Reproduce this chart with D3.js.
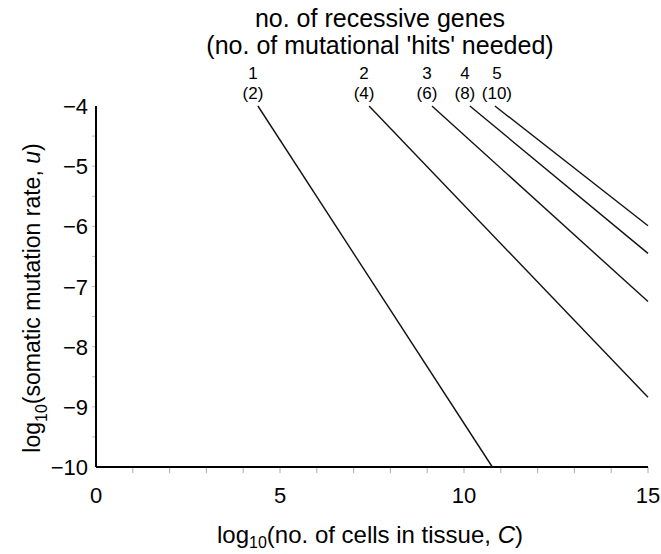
<!DOCTYPE html>
<html>
<head>
<meta charset="utf-8">
<script src="https://cdn.jsdelivr.net/npm/d3@7"></script>
<style>
  body { margin: 0; background: #fff; }
  svg { font-family: "Liberation Sans", Arial, sans-serif; }
</style>
</head>
<body>
<div id="chart"></div>
<script>
// Data: each line goes from (startX, -4) to (endX, endY)
const genes = [1, 2, 3, 4, 5];
const hits = [2, 4, 6, 8, 10];
const startX = [4.4, 7.42, 9.13, 10.16, 10.84];
const endX = [10.77, 15, 15, 15, 15];
const endY = [-10, -8.84, -7.25, -6.45, -5.99];
const xTicks = [0, 5, 10, 15];
const yTicks = [-4, -5, -6, -7, -8, -9, -10];

const W = 661, H = 554;
const margin = { top: 106, right: 13, bottom: 87, left: 96 };

const svg = d3.select("#chart").append("svg")
    .attr("width", W)
    .attr("height", H);

const x = d3.scaleLinear().domain([0, 15]).range([margin.left, W - margin.right]);
const y = d3.scaleLinear().domain([-10, -4]).range([H - margin.bottom, margin.top]);

// minor ticks (light grey)
svg.append("g")
    .selectAll("line")
    .data(d3.range(1, 16))
    .enter().append("line")
    .attr("x1", d => x(d)).attr("x2", d => x(d))
    .attr("y1", y(-10)).attr("y2", y(-10) + 6)
    .attr("stroke", "#aaa").attr("stroke-width", 1);

svg.append("g")
    .selectAll("line")
    .data(d3.range(-9.5, -4, 0.5))
    .enter().append("line")
    .attr("x1", x(0) - 4).attr("x2", x(0))
    .attr("y1", d => y(d)).attr("y2", d => y(d))
    .attr("stroke", "#bbb").attr("stroke-width", 1);

// axes lines
svg.append("line")
    .attr("x1", x(0)).attr("x2", x(15))
    .attr("y1", y(-10)).attr("y2", y(-10))
    .attr("stroke", "#000").attr("stroke-width", 2);
svg.append("line")
    .attr("x1", x(0)).attr("x2", x(0))
    .attr("y1", y(-10)).attr("y2", y(-4))
    .attr("stroke", "#000").attr("stroke-width", 2);

// tick labels
svg.append("g")
    .selectAll("text")
    .data(xTicks)
    .enter().append("text")
    .attr("x", d => x(d))
    .attr("y", y(-10) + 36)
    .attr("text-anchor", "middle")
    .attr("font-size", 22)
    .text(d => d);

svg.append("g")
    .selectAll("text")
    .data(yTicks)
    .enter().append("text")
    .attr("x", x(0) - 8)
    .attr("y", d => y(d) + 8)
    .attr("text-anchor", "end")
    .attr("font-size", 22)
    .text(d => "\u2212" + Math.abs(d));

// lines
svg.append("g")
    .selectAll("line")
    .data(genes)
    .enter().append("line")
    .attr("x1", (d, i) => x(startX[i]))
    .attr("y1", y(-4))
    .attr("x2", (d, i) => x(endX[i]))
    .attr("y2", (d, i) => y(endY[i]))
    .attr("stroke", "#111")
    .attr("stroke-width", 1.4);

// line labels (last one nudged right so "(8)" and "(10)" don't touch)
const lab = svg.append("g")
    .selectAll("g")
    .data(genes)
    .enter().append("g")
    .attr("transform", (d, i) => `translate(${x(startX[i]) + (i === 4 ? 2 : -5)},0)`);
lab.append("text")
    .attr("y", 79)
    .attr("text-anchor", "middle")
    .attr("font-size", 17)
    .text(d => d);
lab.append("text")
    .attr("y", 99)
    .attr("text-anchor", "middle")
    .attr("font-size", 17)
    .text((d, i) => "(" + hits[i] + ")");

// title
svg.append("text")
    .attr("x", 380).attr("y", 27)
    .attr("text-anchor", "middle")
    .attr("font-size", 25)
    .text("no. of recessive genes");
svg.append("text")
    .attr("x", 380).attr("y", 54)
    .attr("text-anchor", "middle")
    .attr("font-size", 25)
    .text("(no. of mutational 'hits' needed)");

// x axis title
const xt = svg.append("text")
    .attr("x", 370).attr("y", 543)
    .attr("text-anchor", "middle")
    .attr("font-size", 24);
xt.append("tspan").text("log");
xt.append("tspan").attr("font-size", 16).attr("dy", 5).text("10");
xt.append("tspan").attr("dy", -5).text("(no. of cells in tissue, ");
xt.append("tspan").attr("font-style", "italic").text("C");
xt.append("tspan").text(")");

// y axis title
const yt = svg.append("text")
    .attr("transform", `translate(40,298) rotate(-90)`)
    .attr("text-anchor", "middle")
    .attr("font-size", 23);
yt.append("tspan").text("log");
yt.append("tspan").attr("font-size", 16).attr("dy", 7).text("10");
yt.append("tspan").attr("dy", -7).text("(somatic mutation rate, ");
yt.append("tspan").attr("font-style", "italic").text("u");
yt.append("tspan").text(")");
</script>
</body>
</html>
